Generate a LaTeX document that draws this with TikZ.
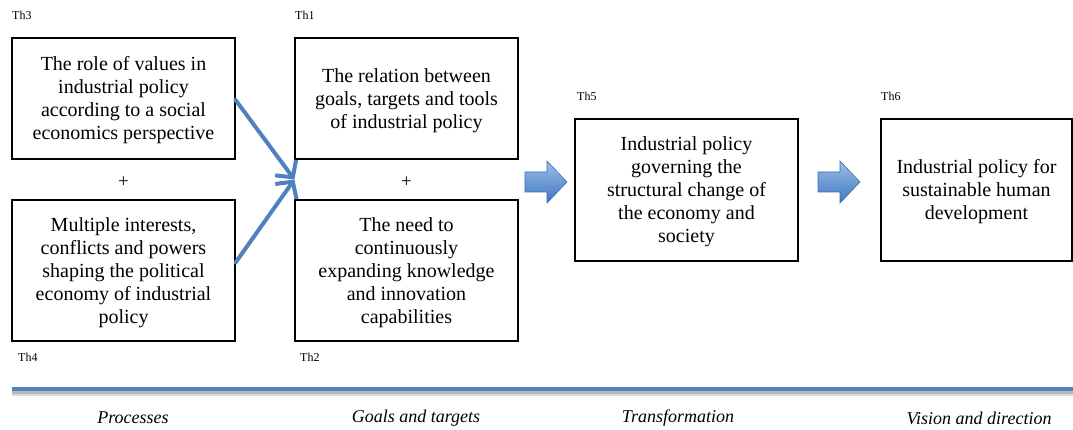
\documentclass[tikz,border=0pt]{standalone}
\usepackage{fontspec}
\setmainfont{Liberation Serif}
\usetikzlibrary{arrows.meta,calc}
\definecolor{wordblue}{HTML}{4F81BD}
\definecolor{blockedge}{HTML}{3C6CA8}
\definecolor{blocktop}{HTML}{9DBEEA}
\definecolor{blockbot}{HTML}{3F77C0}
\tikzset{
  box/.style={draw=black, line width=1.2pt, minimum width=223pt, align=center, inner sep=0pt,
    font=\fontsize{20}{23}\selectfont},
  boxtext/.style={yshift=-2pt},
  thlabel/.style={anchor=west, inner sep=0pt, font=\fontsize{12}{14}\selectfont},
  plus/.style={inner sep=0pt, font=\fontsize{19}{20}\selectfont},
  axislabel/.style={inner sep=0pt, font=\fontsize{18}{20}\selectfont\itshape},
  bluearrow/.style={draw=wordblue, line width=4pt, line cap=round,
    -{Straight Barb[length=12pt,width=26pt,line width=4pt]}},
  blockarrow/.style={draw=blockedge, line width=0.6pt, top color=blocktop, bottom color=blockbot}
}
\begin{document}
\begin{tikzpicture}[x=1pt,y=-1pt]
\useasboundingbox (0,0) rectangle (1073,430);
% boxes
\node[box, minimum height=121pt] (th3) at (123.5,98.5) {};
\node[box, minimum height=141pt] (th4) at (123.5,270.5) {};
\node[box, minimum height=121pt] (th1) at (406.5,98.5) {};
\node[box, minimum height=141pt] (th2) at (406.5,270.5) {};
\node[box, minimum height=142pt] (th5) at (686.5,190) {};
\node[box, minimum width=191pt, minimum height=142pt] (th6) at (976.5,190) {};
% box texts
\node[box, draw=none, minimum width=0pt, boxtext] (t3) at (th3) {The role of values in\\industrial policy\\according to a social\\economics perspective};
\node[box, draw=none, minimum width=0pt, boxtext] (t4) at (th4) {Multiple interests,\\conflicts and powers\\shaping the political\\economy of industrial\\policy};
\node[box, draw=none, minimum width=0pt, boxtext] (t1) at (th1) {The relation between\\goals, targets and tools\\of industrial policy};
\node[box, draw=none, minimum width=0pt, boxtext] (t2) at (th2) {The need to\\continuously\\expanding knowledge\\and innovation\\capabilities};
\node[box, draw=none, minimum width=0pt, boxtext] (t5) at (th5) {Industrial policy\\governing the\\structural change of\\the economy and\\society};
\node[box, draw=none, minimum width=0pt, boxtext] (t6) at (th6) {Industrial policy for\\sustainable human\\development};
% labels
\node[thlabel] (l3) at (12,15) {Th3};
\node[thlabel] (l1) at (295,15) {Th1};
\node[thlabel] (l5) at (577,96) {Th5};
\node[thlabel] (l6) at (881,96) {Th6};
\node[thlabel] (l4) at (18,357) {Th4};
\node[thlabel] (l2) at (300,357) {Th2};
% plus signs
\node[plus, yshift=-3pt] (p1) at ($(th3.south)!0.5!(th4.north)$) {+};
\node[plus, yshift=-3pt] (p2) at ($(th1.south)!0.5!(th2.north)$) {+};
% converging arrows
\coordinate (meet) at ($(th1.south west)!0.5!(th2.north west)$);
\draw[bluearrow] ([yshift=-1.5pt]th3.east) -- (meet);
\draw[bluearrow] ([yshift=8pt]th4.east) -- (meet);
% block arrows
\coordinate (ba1) at (525,182);
\coordinate (ba2) at (818,182);
\foreach \c in {ba1,ba2}{
  \path[blockarrow] (\c) ++(0,-10) -- ++(22,0) -- ++(0,-11) -- ++(20,21) -- ++(-20,21) -- ++(0,-11) -- ++(-22,0) -- cycle;
}
% bottom axis
\coordinate (axA) at (12,389);
\coordinate (axB) at (1073,389);
\draw[line width=5pt, black!15] ([yshift=-4pt]axA) -- ([yshift=-4pt]axB);
\draw[line width=3pt, black!28] ([yshift=-3pt]axA) -- ([yshift=-3pt]axB);
\draw[line width=4pt, wordblue] (axA) -- (axB);
\node[axislabel] (x1) at (133,418) {Processes};
\node[axislabel] (x2) at (416,418) {Goals and targets};
\node[axislabel] (x3) at (678,418) {Transformation};
\node[axislabel] (x4) at (979,418) {Vision and direction};
\end{tikzpicture}
\end{document}
